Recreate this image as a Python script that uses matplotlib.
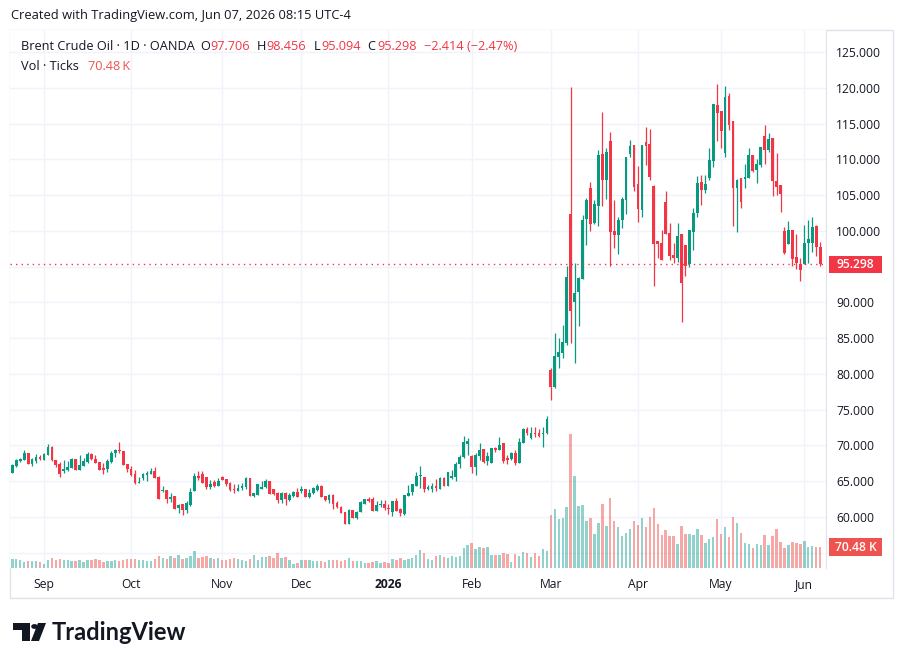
import numpy as np
import pandas as pd
import matplotlib
matplotlib.use('Agg')
import matplotlib.pyplot as plt
from matplotlib.patches import Rectangle, Polygon, Circle
import matplotlib.transforms as mtransforms

W, H = 904, 665

# ---------------- data ----------------
start_date = '2025-08-20'
end_date = '2026-06-05'
holidays = ['2025-12-25', '2026-01-01', '2026-04-03']

open_ = [66.2, 67.2, 67.8, 68.0, 68.95, 67.4, 67.8, 68.4, 68.0, 68.7,
         69.8, 67.97, 67.4, 66.5, 66.6, 66.9, 68.1, 66.6, 67.2, 67.7,
         68.8, 68.06, 67.7, 66.85, 66.66, 67.64, 68.99, 69.36, 69.2, 67.36,
         66.75, 66.06, 64.8, 65.45, 65.9, 66.06, 66.4, 65.6, 63.58, 63.77,
         62.56, 62.98, 61.25, 61.77, 60.97, 61.67, 63.68, 65.77, 66.0, 65.59,
         64.24, 64.89, 64.38, 65.59, 65.26, 64.8, 63.96, 63.68, 64.0, 64.19,
         65.4, 62.98, 63.12, 63.96, 64.14, 64.98, 63.91, 63.4, 62.37, 63.4,
         62.4, 62.94, 63.54, 63.68, 63.91, 62.75, 63.31, 63.77, 64.38, 62.94,
         62.38, 63.08, 61.91, 61.35, 60.7, 59.07, 60.98, 59.86, 60.75, 61.86,
         62.52, 62.52, 60.84, 61.68, 61.77, 61.30, 60.75, 62.24, 61.12, 60.38,
         62.94, 63.5, 64.38, 65.7, 65.55, 63.87, 63.87, 64.33, 63.96, 65.46,
         64.33, 65.46, 65.64, 67.41, 68.34, 70.26, 68.58, 67.04, 68.58, 69.46,
         67.83, 67.6, 69.65, 69.37, 70.3, 68.2, 68.16, 68.9, 67.6, 70.4,
         72.3, 71.0, 71.79, 71.79, 71.56, 71.7, 80.55, 78.22, 82.42, 82.97,
         84.28, 102.36, 90.1, 91.5, 93.27, 101.61, 105.94, 101.05, 103.48, 110.75,
         107.11, 112.56, 100.03, 99.42, 101.52, 104.31, 110.75, 112.0, 106.55, 102.92,
         112.47, 112.14, 106.27, 98.58, 98.35, 104.08, 99.65, 96.63, 96.16, 99.56,
         98.02, 95.32, 99.89, 102.45, 106.78, 105.71, 107.34, 109.81, 117.6, 116.76,
         110.93, 118.85, 115.36, 106.04, 107.34, 107.25, 107.43, 110.56, 108.51, 109.21,
         113.26, 111.3, 112.93, 106.97, 106.41, 99.98, 98.16, 100.12, 96.39, 95.37,
         95.37, 98.3, 98.35, 100.73, 97.706]

high = [67.4, 68.1, 68.25, 69.3, 69.0, 68.25, 68.8, 68.6, 69.0, 70.2,
        69.97, 67.97, 67.7, 67.9, 67.87, 68.25, 68.15, 68.7, 68.25, 69.1,
        68.9, 68.7, 67.75, 67.5, 68.06, 69.18, 69.46, 70.48, 69.25, 67.4,
        67.1, 66.6, 65.6, 66.2, 66.38, 66.9, 67.0, 65.8, 64.3, 63.77,
        63.3, 63.0, 61.77, 61.8, 62.2, 64.1, 66.19, 66.43, 66.43, 65.6,
        65.17, 65.17, 65.5, 65.73, 65.3, 64.85, 64.66, 64.66, 64.7, 65.59,
        65.45, 63.35, 64.6, 64.98, 65.31, 65.08, 63.95, 63.45, 63.45, 63.45,
        63.4, 63.6, 64.0, 64.33, 63.95, 63.96, 64.24, 64.56, 64.45, 63.0,
        63.22, 63.2, 62.24, 61.5, 60.75, 61.07, 61.0, 60.8, 62.24, 62.55,
        62.75, 62.84, 62.28, 62.38, 62.38, 61.82, 62.24, 62.61, 61.2, 63.1,
        64.47, 64.6, 66.24, 67.13, 65.6, 64.47, 64.7, 65.32, 65.64, 65.64,
        66.3, 66.57, 67.65, 68.67, 71.38, 71.0, 68.6, 68.9, 70.4, 69.5,
        69.14, 69.65, 69.84, 71.14, 70.4, 68.67, 69.14, 69.37, 71.0, 72.4,
        72.63, 72.63, 72.63, 72.26, 72.63, 74.17, 80.78, 85.68, 84.98, 86.84,
        95.09, 120.16, 95.46, 93.6, 102.22, 104.55, 106.88, 104.31, 111.3, 116.66,
        111.54, 113.87, 104.31, 101.89, 104.78, 110.3, 112.7, 112.05, 109.07, 112.05,
        114.57, 114.2, 106.37, 98.6, 100.12, 105.57, 101.05, 98.26, 101.05, 99.6,
        98.05, 100.15, 103.15, 107.67, 107.81, 107.81, 111.54, 117.8, 120.53, 116.8,
        120.3, 119.32, 115.4, 107.25, 107.4, 109.35, 111.54, 110.6, 110.05, 111.7,
        114.8, 113.63, 112.95, 110.84, 106.45, 100.59, 101.38, 100.15, 99.56, 96.16,
        100.82, 101.52, 101.89, 100.75, 98.456]

low = [66.1, 67.0, 67.7, 67.9, 67.4, 67.1, 67.6, 67.97, 67.9, 68.6,
       67.8, 67.0, 65.6, 66.1, 66.5, 66.85, 66.55, 66.56, 67.13, 67.6,
       67.97, 67.5, 66.6, 66.06, 66.3, 67.5, 68.4, 68.99, 67.3, 66.3,
       65.8, 64.56, 64.75, 65.2, 65.08, 66.0, 65.5, 62.56, 63.5, 61.9,
       62.1, 61.16, 60.5, 60.32, 60.6, 61.58, 63.6, 65.17, 64.8, 63.91,
       63.91, 64.24, 64.28, 65.17, 64.28, 63.68, 63.3, 63.65, 63.77, 63.96,
       62.93, 62.74, 63.1, 63.9, 64.1, 63.2, 63.07, 61.9, 62.0, 61.67,
       62.23, 62.85, 62.75, 63.31, 62.75, 62.7, 63.2, 63.7, 62.84, 62.24,
       61.91, 61.1, 61.26, 60.51, 59.07, 59.0, 59.86, 59.76, 60.7, 61.8,
       62.1, 60.84, 60.8, 61.35, 60.98, 60.47, 60.19, 60.89, 60.19, 60.28,
       62.9, 63.08, 64.3, 64.0, 63.54, 63.78, 63.54, 63.68, 63.9, 64.3,
       64.3, 65.27, 65.08, 66.9, 68.3, 68.62, 66.2, 65.92, 67.97, 67.5,
       67.27, 67.55, 69.14, 69.3, 67.6, 67.41, 67.97, 67.23, 67.55, 70.35,
       71.47, 70.9, 71.14, 71.24, 69.84, 71.56, 76.4, 78.03, 80.78, 82.18,
       84.05, 84.28, 81.57, 86.7, 93.2, 98.02, 100.03, 101.0, 100.73, 103.48,
       104.45, 95.09, 97.65, 96.76, 100.45, 102.36, 110.28, 105.62, 101.29, 101.89,
       109.21, 107.11, 92.29, 96.25, 95.93, 99.5, 95.93, 95.56, 95.7, 87.3,
       93.69, 94.9, 97.32, 101.98, 103.62, 105.25, 107.11, 108.88, 112.61, 111.63,
       110.37, 114.1, 100.68, 99.89, 103.25, 106.04, 107.4, 108.23, 106.74, 108.88,
       109.35, 111.07, 104.87, 105.01, 102.68, 96.8, 98.1, 95.09, 94.62, 93.0,
       95.3, 95.56, 97.09, 96.48, 95.094]

close = [67.3, 68.0, 68.1, 69.0, 67.4, 68.06, 68.4, 68.06, 68.8, 69.8,
         67.9, 67.3, 66.06, 66.75, 67.0, 68.15, 66.6, 67.3, 67.87, 68.8,
         68.06, 67.5, 66.6, 66.6, 67.78, 68.99, 69.36, 69.18, 67.3, 66.66,
         65.9, 64.8, 64.9, 66.06, 66.2, 66.4, 65.5, 62.56, 63.77, 62.5,
         62.84, 61.16, 61.67, 60.97, 61.9, 63.54, 65.73, 65.49, 64.8, 64.24,
         64.66, 64.38, 65.08, 65.21, 64.66, 63.82, 63.77, 64.1, 64.38, 65.49,
         62.93, 63.3, 64.56, 64.24, 64.98, 63.2, 63.21, 62.37, 63.4, 62.47,
         63.1, 63.54, 62.75, 63.86, 62.75, 63.40, 64.0, 64.38, 62.84, 62.38,
         63.08, 61.82, 61.35, 60.6, 59.07, 60.98, 59.86, 60.7, 62.14, 62.52,
         62.24, 60.84, 61.68, 61.86, 61.21, 61.16, 62.24, 60.89, 60.61, 63.08,
         63.4, 64.56, 65.78, 65.9, 63.87, 64.15, 64.33, 64.05, 65.46, 64.33,
         66.29, 65.74, 67.46, 68.44, 70.54, 70.68, 67.04, 68.67, 69.37, 67.74,
         68.53, 69.6, 69.37, 70.07, 67.83, 67.97, 69.0, 67.6, 70.54, 72.26,
         71.79, 71.79, 71.56, 71.33, 71.7, 73.66, 78.22, 82.5, 83.07, 84.46,
         93.6, 88.84, 91.26, 93.36, 101.52, 104.31, 100.96, 103.76, 110.61, 107.11,
         111.07, 99.89, 99.42, 101.52, 104.45, 110.28, 111.91, 106.18, 103.06, 112.0,
         111.91, 107.48, 98.16, 98.16, 95.93, 99.56, 96.53, 96.25, 99.28, 92.66,
         95.09, 100.12, 102.54, 106.65, 105.71, 106.48, 109.91, 117.74, 116.52, 114.0,
         118.76, 114.8, 106.04, 107.11, 104.08, 107.57, 110.56, 108.42, 109.3, 111.68,
         111.3, 112.79, 106.97, 106.18, 105.15, 96.86, 100.12, 96.02, 95.56, 94.53,
         98.35, 98.81, 100.59, 97.712, 95.298]

volume_k = [32, 32, 28, 22, 25, 25, 25, 22, 15, 28,
            35, 28, 32, 28, 28, 25, 25, 28, 22, 28,
            28, 32, 28, 22, 25, 25, 28, 25, 28, 32,
            32, 32, 28, 28, 25, 25, 32, 42, 35, 32,
            42, 35, 45, 32, 35, 42, 59, 35, 38, 42,
            35, 32, 35, 28, 28, 32, 35, 32, 28, 25,
            32, 45, 28, 38, 38, 42, 35, 52, 35, 38,
            28, 15, 18, 28, 28, 28, 25, 25, 25, 22,
            28, 28, 28, 25, 28, 35, 25, 25, 25, 18,
            18, 22, 25, 18, 22, 18, 32, 28, 35, 28,
            32, 35, 45, 62, 52, 32, 28, 42, 45, 38,
            35, 42, 38, 42, 69, 79, 86, 66, 72, 69,
            72, 45, 45, 45, 52, 49, 22, 49, 42, 56,
            52, 38, 52, 42, 64, 58, 181, 200, 166, 169,
            206, 455, 312, 210, 213, 159, 169, 115, 152, 217,
            142, 237, 159, 138, 108, 118, 132, 159, 145, 169,
            138, 172, 203, 149, 111, 128, 108, 108, 81, 142,
            115, 115, 111, 132, 111, 84, 98, 104, 166, 115,
            138, 104, 172, 152, 118, 84, 81, 67, 81, 77,
            111, 77, 108, 132, 87, 67, 77, 87, 84, 81,
            91, 70, 74, 70, 70.48]

price_ticks = [55, 60, 65, 70, 75, 80, 85, 90, 95, 100, 105, 110, 115, 120, 125]

# ---------------- styling ----------------
UP = '#089981'
DOWN = '#F23645'
VOL_UP = '#26a69a'
VOL_DOWN = '#ef5350'
GRID = '#f0f3fa'
TEXT = '#131722'
BORDER = '#e0e3eb'
FONT = ['Open Sans', 'DejaVu Sans']
plt.rcParams['font.family'] = FONT

dates = pd.bdate_range(start_date, end_date)
dates = dates[~dates.isin(pd.to_datetime(holidays))]
n = len(dates)
x = np.arange(n)
o = np.array(open_); h = np.array(high); l = np.array(low); c = np.array(close)
v = np.array(volume_k) * 1000.0
up = c >= o


def fx(px):
    return px / W


def fy(py):
    return 1 - py / H


fig = plt.figure(figsize=(W / 100, H / 100), dpi=100)
fig.patch.set_facecolor('white')

# pane geometry (pixels)
L_PX, R_PX, T_PX, B_PX = 10, 826, 30, 568
pos = [fx(L_PX), fy(B_PX), (R_PX - L_PX) / W, (B_PX - T_PX) / H]

ax = fig.add_axes(pos)
axv = ax.twinx()
ax.set_zorder(2)
axv.set_zorder(1)
ax.patch.set_visible(False)
axv.patch.set_visible(True)
axv.patch.set_facecolor('white')

# price scale: 7.154 px per unit, 125 at y=52
ppu = 7.154
ytop = 125 + (52 - T_PX) / ppu
ybot = 125 - (B_PX - 52) / ppu
ax.set_ylim(ybot, ytop)
bar_px = 3.96
x0 = (L_PX - 12.3) / bar_px
x1 = (R_PX - 12.3) / bar_px
ax.set_xlim(x0, x1)

# volume scale
vol_per_px = 70480 / 20.7
axv.set_ylim(0, vol_per_px * (B_PX - T_PX))
axv.set_yticks([])

# grid
for p in price_ticks:
    axv.axhline((p - ybot) / (ytop - ybot) * vol_per_px * (B_PX - T_PX), color=GRID, lw=1, zorder=0)

month_idx = [i for i in range(1, n) if dates[i].month != dates[i - 1].month]
for i in month_idx:
    axv.axvline(i, color=GRID, lw=1, zorder=0)

# volume
axv.bar(x, v, width=0.62, color=np.where(up, VOL_UP, VOL_DOWN), alpha=0.5, zorder=2, linewidth=0)

# candles
col = np.where(up, UP, DOWN)
ax.vlines(x, l, h, colors=col, lw=0.9, zorder=3)
body_lo = np.minimum(o, c)
body_h = np.maximum(np.abs(c - o), 0.12)
ax.bar(x, body_h, bottom=body_lo, width=0.7, color=col, linewidth=0, zorder=4)

# last price dotted line
ax.axhline(c[-1], color=DOWN, lw=1, ls=(0, (1, 3)), zorder=5)

# axes decorations: hide scale labels hidden behind the price / volume boxes
ax.set_yticks(price_ticks)
ax.set_yticklabels(['' if (p == 55 or abs(p - c[-1]) * ppu < 14) else f'{p:.3f}'
                    for p in price_ticks])
ax.yaxis.tick_right()
ax.tick_params(axis='y', length=0, pad=7.3, labelsize=8.7, labelcolor=TEXT)
ax.set_xticks(month_idx)
labels = []
for i in month_idx:
    d = dates[i]
    labels.append(str(d.year) if d.month == 1 else d.strftime('%b'))
ax.set_xticklabels(labels)
ax.tick_params(axis='x', length=0, pad=7.5, labelsize=8.7, labelcolor=TEXT)
for lab, i in zip(ax.get_xticklabels(), month_idx):
    if dates[i].month == 1:
        lab.set_fontweight('bold')
axv.tick_params(axis='x', length=0)
for s in ['left', 'top', 'bottom']:
    ax.spines[s].set_visible(False)
    axv.spines[s].set_visible(False)
ax.spines['right'].set_color(BORDER)
axv.spines['right'].set_visible(False)

# price label boxes
bt = mtransforms.blended_transform_factory(ax.transAxes, ax.transData)
bx0 = (829 - L_PX) / (R_PX - L_PX)
bx1 = (882 - L_PX) / (R_PX - L_PX)
box_h = 17 / ppu
ax.add_patch(Rectangle((bx0, c[-1] - box_h / 2), bx1 - bx0, box_h, transform=bt,
                       color=DOWN, clip_on=False, zorder=10, lw=0))
ax.text((bx0 + bx1) / 2, c[-1], f'{c[-1]:.3f}', transform=bt, ha='center', va='center',
        color='white', fontsize=8.7, fontweight='semibold', clip_on=False, zorder=11)

vt = mtransforms.blended_transform_factory(axv.transAxes, axv.transData)
vbox_h = 18 * vol_per_px
axv.add_patch(Rectangle((bx0, v[-1] - vbox_h / 2), bx1 - bx0, vbox_h, transform=vt,
                        color=VOL_DOWN, clip_on=False, zorder=10, lw=0))
axv.text((bx0 + bx1) / 2, v[-1], f'{v[-1] / 1000:.2f} K', transform=vt, ha='center', va='center',
         color='white', fontsize=8.7, fontweight='semibold', clip_on=False, zorder=11)

# outer frame
fig.add_artist(Rectangle((fx(10), fy(598)), 883 / W, 568 / H, transform=fig.transFigure,
                         fill=False, ec=BORDER, lw=1))

# header
fig.text(fx(11), fy(16), 'Created with TradingView.com, Jun 07, 2026 08:15 UTC-4',
         ha='left', va='center', fontsize=9.3, color=TEXT)

# legend
chg = c[-1] - c[-2]
pct = chg / c[-2] * 100
legend_col = DOWN if chg < 0 else UP
y1 = fy(46)
fig.text(fx(21), y1, 'Brent Crude Oil · 1D · OANDA', ha='left', va='center', fontsize=9.2, color=TEXT)
pieces = [(200, 'O', TEXT), (210.5, f'{o[-1]:.3f}', legend_col),
          (256.5, 'H', TEXT), (266, f'{h[-1]:.3f}', legend_col),
          (314, 'L', TEXT), (321.5, f'{l[-1]:.3f}', legend_col),
          (367.5, 'C', TEXT), (377, f'{c[-1]:.3f}', legend_col),
          (424, f'{chg:+.3f} ({pct:+.2f}%)'.replace('-', '\u2212'), legend_col)]
for px, s, colr in pieces:
    fig.text(fx(px), y1, s, ha='left', va='center', fontsize=9.2, color=colr)
y2 = fy(66)
fig.text(fx(21), y2, 'Vol · Ticks', ha='left', va='center', fontsize=9.2, color=TEXT)
fig.text(fx(88), y2, f'{v[-1] / 1000:.2f}\u2009K', ha='left', va='center', fontsize=9.2,
         color=VOL_DOWN)

# TradingView logo
logo_col = '#131722'
fig.add_artist(Polygon([(fx(13), fy(623)), (fx(30), fy(623)), (fx(30), fy(641)),
                        (fx(22), fy(641)), (fx(22), fy(630)), (fx(13), fy(630))],
                       closed=True, transform=fig.transFigure, color=logo_col, lw=0))
fig.add_artist(Polygon([(fx(38), fy(623)), (fx(46), fy(623)), (fx(39), fy(641)), (fx(31), fy(641))],
                       closed=True, transform=fig.transFigure, color=logo_col, lw=0))
fig.add_artist(Circle((fx(34.5), fy(626.5)), 3.3 / W, transform=fig.transFigure, color=logo_col, lw=0))
fig.text(fx(52), fy(633), 'TradingView', ha='left', va='center', fontsize=17, fontweight='bold',
         color=logo_col, family=['Lato', 'DejaVu Sans'])

fig.savefig('out.png', dpi=100, facecolor='white')
